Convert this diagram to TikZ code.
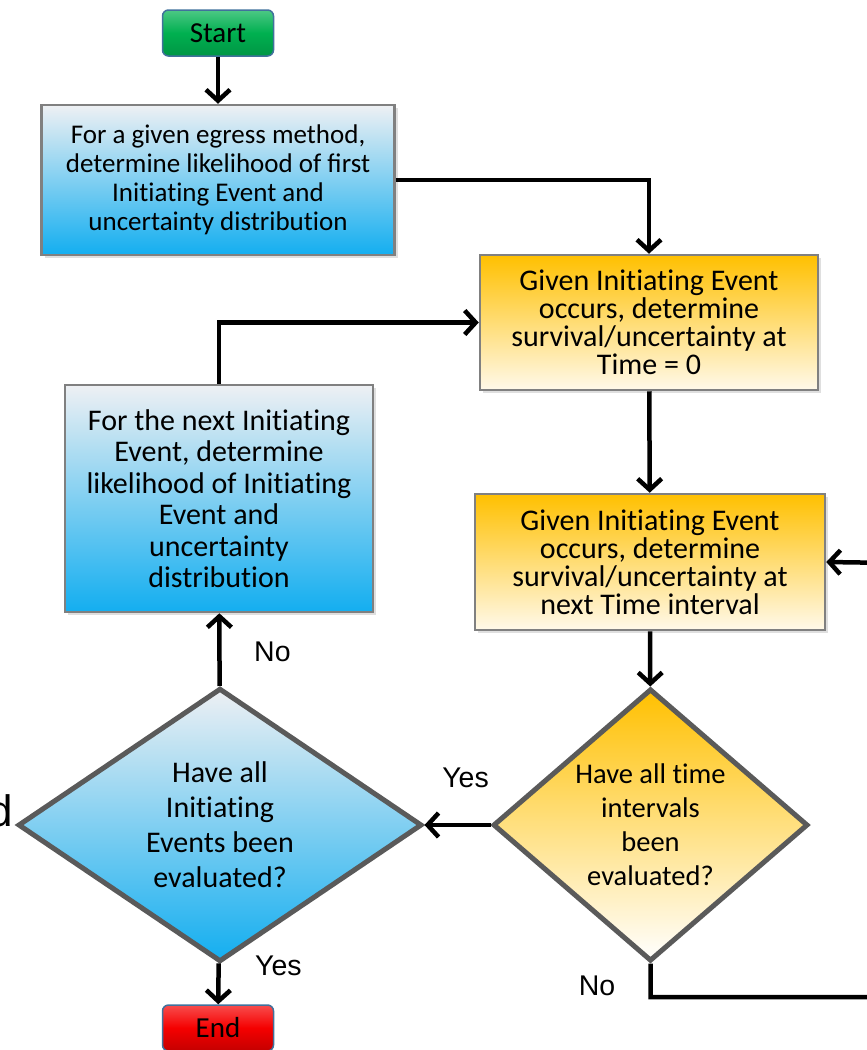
\documentclass[tikz,border=0pt]{standalone}
\usepackage{fontspec}
\setmainfont{Carlito}
\newfontfamily\lblfont{Liberation Sans}
\usetikzlibrary{positioning,shapes.geometric,shadows,arrows.meta}

% break the t-i ligature of the font
\newcommand{\nt}{t\kern0pt}

\definecolor{paleGray}{HTML}{EEF0F3}
\definecolor{skyBlue}{HTML}{13AEF0}
\definecolor{goldYellow}{HTML}{FFC000}
\definecolor{creamWhite}{HTML}{FFF9EA}
\definecolor{frameGray}{HTML}{808080}
\definecolor{diaGray}{HTML}{5A5A5A}
\definecolor{startGreen}{HTML}{00B050}
\definecolor{endRed}{HTML}{F50000}
\definecolor{capFrame}{HTML}{41719C}

\tikzset{
  blueblock/.style={draw=frameGray, line width=2.5pt, top color=paleGray, bottom color=skyBlue,
    drop shadow={opacity=0.25,shadow xshift=3pt,shadow yshift=-3pt}, align=center, inner sep=2pt},
  goldblock/.style={draw=frameGray, line width=2.5pt, top color=goldYellow, bottom color=creamWhite,
    drop shadow={opacity=0.25,shadow xshift=3pt,shadow yshift=-3pt}, align=center, inner sep=2pt},
  bluecheck/.style={diamond, draw=diaGray, line width=5pt, top color=paleGray, bottom color=skyBlue,
    align=center, inner sep=0pt},
  goldcheck/.style={diamond, draw=diaGray, line width=5pt, top color=goldYellow, bottom color=white,
    align=center, inner sep=0pt},
  terminal/.style={draw=capFrame, line width=1.5pt, rounded corners=6pt, minimum width=111pt,
    minimum height=46pt, font=\fontsize{29}{29}\selectfont},
  flow/.style={line width=4.5pt, -{Straight Barb[length=11pt,width=24pt,line width=4.5pt]}},
  lbl/.style={font=\lblfont\fontsize{28.5}{28.5}\selectfont, inner sep=0pt}
}

\begin{document}
\begin{tikzpicture}[x=1pt,y=-1pt]
  \useasboundingbox (0,0) rectangle (867,1050);
  \clip (0,0) rectangle (867,1050);

  % terminals
  \node[terminal, top color=startGreen!70!white, bottom color=startGreen!85!black, middle color=startGreen]
        (start) at (218,33) {Start};
  \node[terminal, top color=endRed!70!white, bottom color=endRed!80!black, middle color=endRed]
        (end) at (218,1028) {End};

  % process blocks
  \node[blueblock, minimum width=353pt, minimum height=150pt, font=\fontsize{27}{29}\selectfont]
        (firstIE) at (218,180)
        {For a given egress method,\\ determine likelihood of first\\ Ini\nt ia\nt ing Event and\\ uncertainty distribu\nt ion};
  \node[goldblock, minimum width=338pt, minimum height=135pt, font=\fontsize{30}{28}\selectfont]
        (timeZero) at (649,322.5)
        {Given Ini\nt ia\nt ing Event\\ occurs, determine\\ survival/uncertainty at\\ Time = 0};
  \node[goldblock, minimum width=350pt, minimum height=136pt, font=\fontsize{30}{28}\selectfont]
        (timeNext) at (650,562)
        {Given Ini\nt ia\nt ing Event\\ occurs, determine\\ survival/uncertainty at\\ next Time interval};
  \node[blueblock, minimum width=308pt, minimum height=227pt, font=\fontsize{30}{31.5}\selectfont]
        (nextIE) at (219,498.5)
        {For the next Ini\nt ia\nt ing\\ Event, determine\\ likelihood of Ini\nt ia\nt ing\\ Event and\\ uncertainty\\ distribu\nt ion};

  % decisions
  \node[goldcheck, minimum width=315pt, minimum height=250pt, font=\fontsize{28.5}{34}\selectfont]
        (allTimes) at (650.5,825)
        {Have all \nt ime\\ intervals\\ been\\ evaluated?};
  \node[bluecheck, minimum width=404pt, minimum height=240pt, font=\fontsize{30}{35}\selectfont]
        (allEvents) at (220,825)
        {Have all\\ Ini\nt ia\nt ing\\ Events been\\ evaluated?};

  % cut-off text at the left edge
  \node[font=\lblfont\fontsize{44}{44}\selectfont, anchor=base east, inner sep=0pt] (cutText) at (13,826) {d};

  % loop back from the right edge
  \coordinate (rightLow) at (895,997);
  \coordinate (rightHigh) at (895,563);

  \path[flow] (start) edge (firstIE)
              (firstIE.east) edge[to path={-| (\tikztotarget)}] (timeZero.north)
              (timeZero) edge (timeNext)
              (timeNext) edge (allTimes)
              (allTimes) edge node[lbl, xshift=8pt, yshift=47pt] (yesTimes) {Yes} (allEvents)
              (allEvents) edge node[lbl, xshift=53pt, yshift=-2pt] (noEvents) {No} (nextIE)
              (nextIE.north) edge[to path={|- (\tikztotarget)}] (timeZero.west)
              (allEvents) edge node[lbl, xshift=60pt, yshift=18pt] (yesEvents) {Yes} (end);
  \draw[flow] (allTimes.south) |- (rightLow) -- (rightHigh) -- (timeNext.east);
  \node[lbl] (noTimes) at (597,986) {No};
\end{tikzpicture}
\end{document}
